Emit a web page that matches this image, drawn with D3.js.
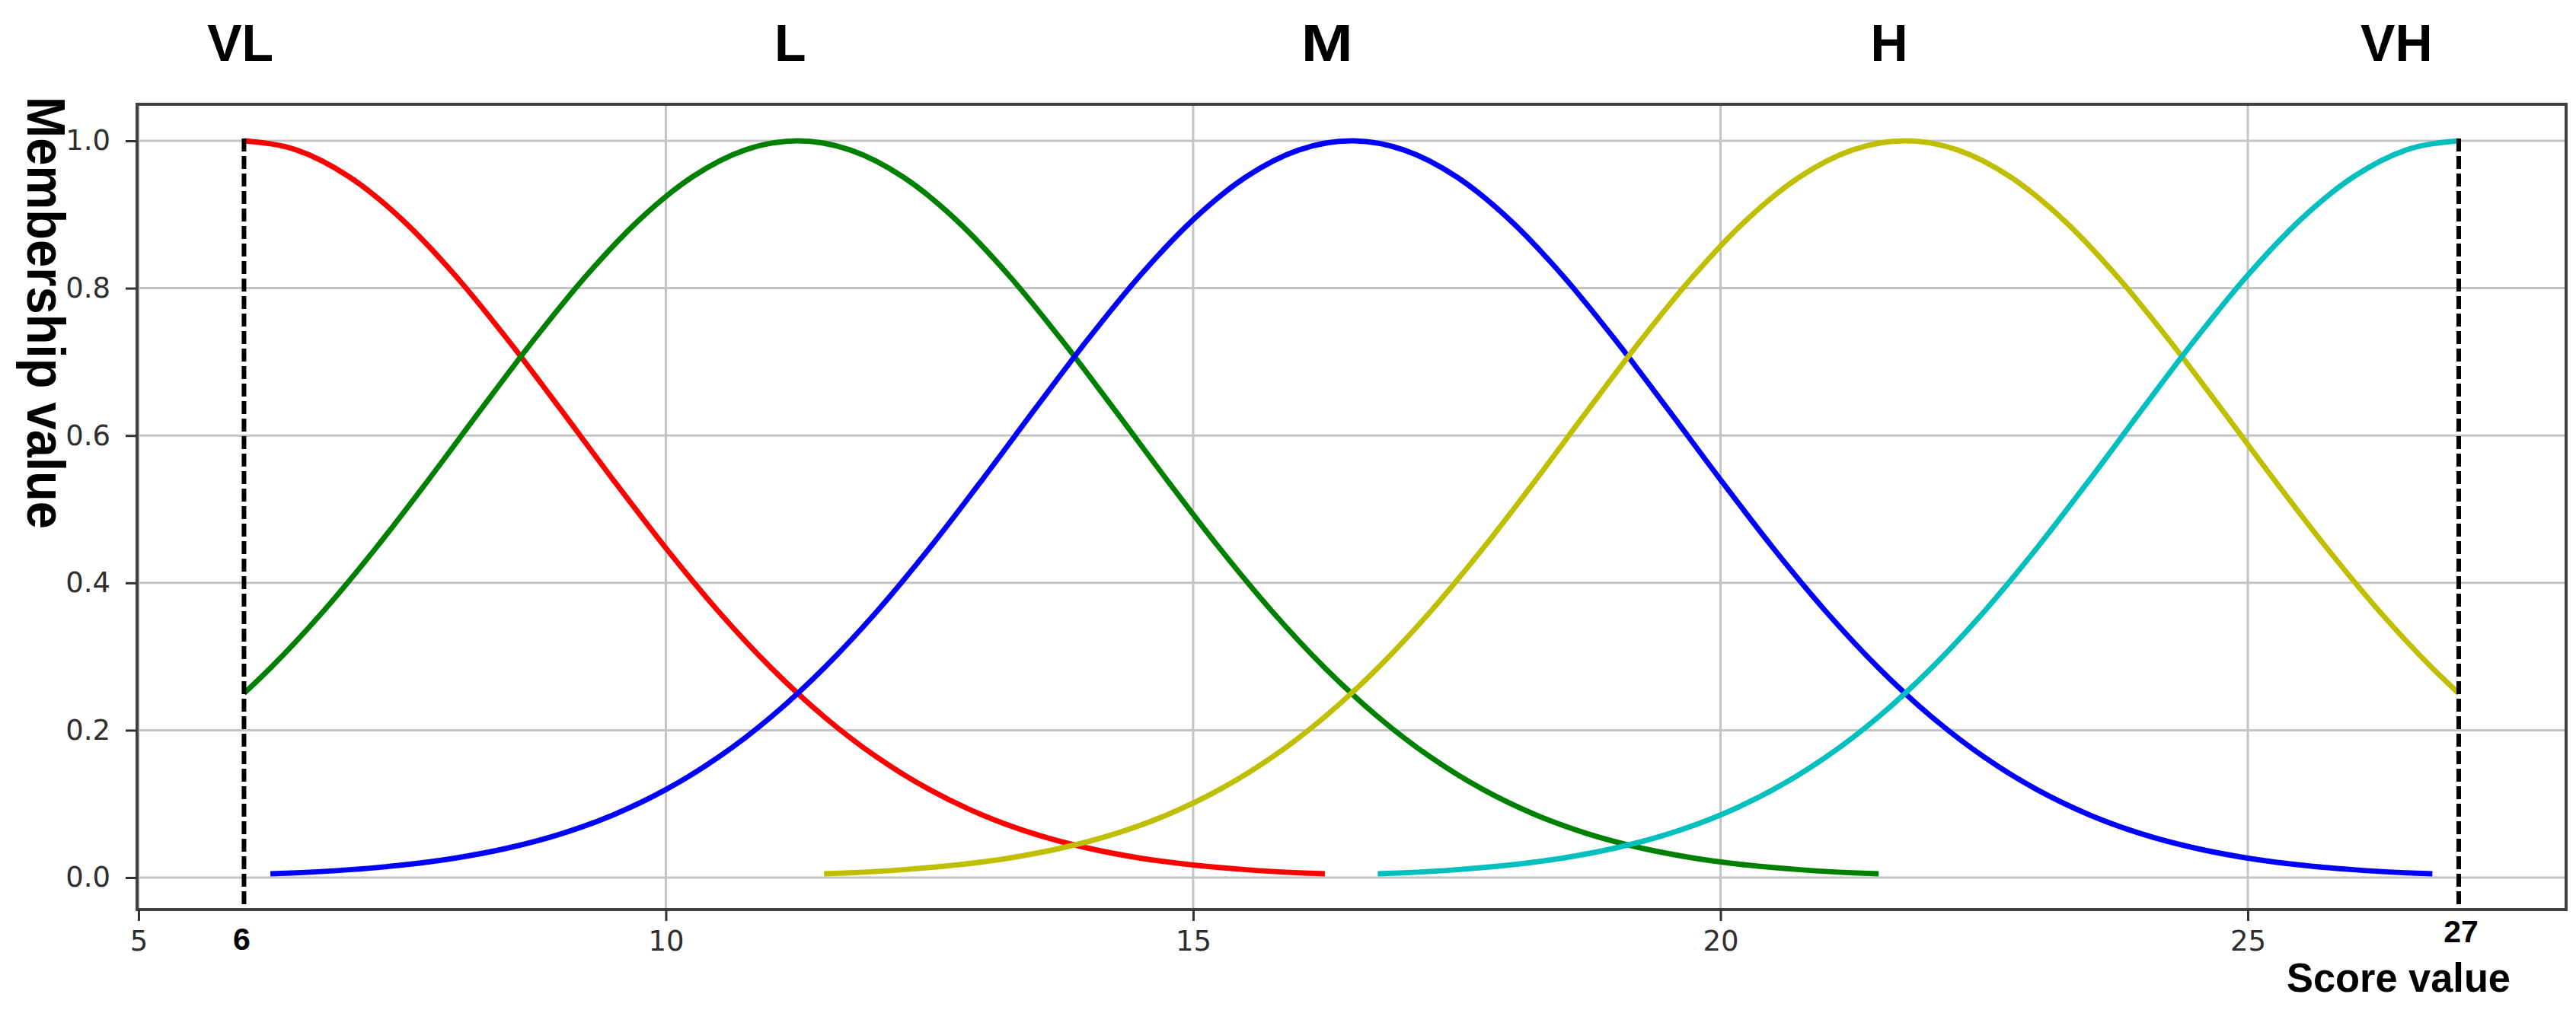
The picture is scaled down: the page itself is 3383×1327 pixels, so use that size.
<!DOCTYPE html>
<html>
<head>
<meta charset="utf-8">
<script src="https://cdn.jsdelivr.net/npm/d3@7"></script>
<style>
  html, body { margin: 0; padding: 0; background: #ffffff; }
  svg { display: block; }
</style>
</head>
<body>
<svg id="chart" width="3383" height="1327"></svg>
<script>
// ---------------- DATA ----------------
const categories = ["VL", "L", "M", "H", "VH"];
const seriesColors = ["#ff0000", "#008000", "#0000ff", "#bfbf00", "#00bfbf"];
const labelX = [5.965, 11.18, 16.27, 21.60, 26.41];   // category label positions (score units)

const xTicks = [5, 10, 15, 20, 25];
const yTicks = [0.0, 0.2, 0.4, 0.6, 0.8, 1.0];
const boundTicks = [6, 27];

const VL_x = [6,6.5,7,7.5,8,8.5,9,9.5,10,10.5,11,11.5,12,12.5,13,13.5,14,14.5,15,15.5,16,16.25];
const VL_y = [1.0000,0.9875,0.9509,0.8930,0.8177,0.7302,0.6359,0.5400,0.4472,0.3611,0.2844,0.2184,0.1635,0.1194,0.0850,0.0590,0.0400,0.0264,0.0170,0.0107,0.0065,0.0051];

const L_x = [6,6.25,6.75,7.25,7.75,8.25,8.75,9.25,9.75,10.25,10.75,11.25,11.75,12.25,12.75,13.25,13.75,14.25,14.75,15.25,15.75,16.25,16.75,17.25,17.75,18.25,18.75,19.25,19.75,20.25,20.75,21.25,21.5];
const L_y = [0.2500,0.2844,0.3611,0.4472,0.5400,0.6359,0.7302,0.8177,0.8930,0.9509,0.9875,1.0000,0.9875,0.9509,0.8930,0.8177,0.7302,0.6359,0.5400,0.4472,0.3611,0.2844,0.2184,0.1635,0.1194,0.0850,0.0590,0.0400,0.0264,0.0170,0.0107,0.0065,0.0051];

const M_x = [6.25,6.5,7,7.5,8,8.5,9,9.5,10,10.5,11,11.5,12,12.5,13,13.5,14,14.5,15,15.5,16,16.5,17,17.5,18,18.5,19,19.5,20,20.5,21,21.5,22,22.5,23,23.5,24,24.5,25,25.5,26,26.5,26.75];
const M_y = [0.0051,0.0065,0.0107,0.0170,0.0264,0.0400,0.0590,0.0850,0.1194,0.1635,0.2184,0.2844,0.3611,0.4472,0.5400,0.6359,0.7302,0.8177,0.8930,0.9509,0.9875,1.0000,0.9875,0.9509,0.8930,0.8177,0.7302,0.6359,0.5400,0.4472,0.3611,0.2844,0.2184,0.1635,0.1194,0.0850,0.0590,0.0400,0.0264,0.0170,0.0107,0.0065,0.0051];

const H_x = [11.5,11.75,12.25,12.75,13.25,13.75,14.25,14.75,15.25,15.75,16.25,16.75,17.25,17.75,18.25,18.75,19.25,19.75,20.25,20.75,21.25,21.75,22.25,22.75,23.25,23.75,24.25,24.75,25.25,25.75,26.25,26.75,27];
const H_y = [0.0051,0.0065,0.0107,0.0170,0.0264,0.0400,0.0590,0.0850,0.1194,0.1635,0.2184,0.2844,0.3611,0.4472,0.5400,0.6359,0.7302,0.8177,0.8930,0.9509,0.9875,1.0000,0.9875,0.9509,0.8930,0.8177,0.7302,0.6359,0.5400,0.4472,0.3611,0.2844,0.2500];

const VH_x = [16.75,17,17.5,18,18.5,19,19.5,20,20.5,21,21.5,22,22.5,23,23.5,24,24.5,25,25.5,26,26.5,27];
const VH_y = [0.0051,0.0065,0.0107,0.0170,0.0264,0.0400,0.0590,0.0850,0.1194,0.1635,0.2184,0.2844,0.3611,0.4472,0.5400,0.6359,0.7302,0.8177,0.8930,0.9509,0.9875,1.0000];

const seriesX = [VL_x, L_x, M_x, H_x, VH_x];
const seriesY = [VL_y, L_y, M_y, H_y, VH_y];

// ---------------- LAYOUT ----------------
const svg = d3.select("#chart");
const plot = { left: 180, right: 3370, top: 137, bottom: 1195 };

const x = d3.scaleLinear().domain([4.986, 28.018]).range([plot.left, plot.right]);
const y = d3.scaleLinear().domain([-0.0434, 1.0496]).range([plot.bottom, plot.top]);

svg.append("rect").attr("width", 3383).attr("height", 1327).attr("fill", "#ffffff");

// grid
const grid = svg.append("g");
grid.selectAll(".gx").data(xTicks).enter().append("line")
  .attr("x1", d => x(d)).attr("x2", d => x(d))
  .attr("y1", plot.top).attr("y2", plot.bottom)
  .attr("stroke", "#c4c4c4").attr("stroke-width", 3);
grid.selectAll(".gy").data(yTicks).enter().append("line")
  .attr("x1", plot.left).attr("x2", plot.right)
  .attr("y1", d => y(d)).attr("y2", d => y(d))
  .attr("stroke", "#c4c4c4").attr("stroke-width", 3);

// curves
const line = d3.line()
  .x(d => x(d[0])).y(d => y(d[1]))
  .curve(d3.curveMonotoneX);

categories.forEach((c, i) => {
  const pts = seriesX[i].map((v, k) => [v, seriesY[i][k]]);
  svg.append("path")
    .datum(pts)
    .attr("d", line)
    .attr("fill", "none")
    .attr("stroke", seriesColors[i])
    .attr("stroke-width", 7)
    .attr("stroke-linecap", "butt")
    .attr("stroke-linejoin", "round");
});

// dashed bounds
svg.selectAll(".bound").data(boundTicks).enter().append("line")
  .attr("x1", d => x(d)).attr("x2", d => x(d))
  .attr("y1", y(1.0) - 3).attr("y2", plot.bottom)
  .attr("stroke", "#000000").attr("stroke-width", 6)
  .attr("stroke-dasharray", "17,6");

// frame
svg.append("rect")
  .attr("x", plot.left).attr("y", plot.top)
  .attr("width", plot.right - plot.left).attr("height", plot.bottom - plot.top)
  .attr("fill", "none").attr("stroke", "#404040").attr("stroke-width", 4);

// axes
const xAxis = svg.append("g")
  .attr("transform", `translate(0,${plot.bottom})`)
  .call(d3.axisBottom(x).tickValues(xTicks).tickFormat(d3.format("d")).tickSize(15).tickPadding(13));
const yAxis = svg.append("g")
  .attr("transform", `translate(${plot.left},0)`)
  .call(d3.axisLeft(y).tickValues(yTicks).tickFormat(d3.format(".1f")).tickSize(15).tickPadding(20));

[xAxis, yAxis].forEach(g => {
  g.select(".domain").remove();
  g.selectAll(".tick line").attr("stroke", "#333333").attr("stroke-width", 3);
  g.selectAll(".tick text")
    .attr("fill", "#2e2e2e")
    .style("font-family", "'DejaVu Sans', sans-serif")
    .style("font-size", "37px");
});

// bound tick labels (bold)
svg.append("text").attr("x", x(6) - 3).attr("y", 1248)
  .attr("text-anchor", "middle")
  .style("font-family", "'Liberation Sans', Arial, sans-serif")
  .style("font-weight", "bold").style("font-size", "41px")
  .attr("fill", "#000").text("6");
svg.append("text").attr("x", x(27) + 3).attr("y", 1238)
  .attr("text-anchor", "middle")
  .style("font-family", "'Liberation Sans', Arial, sans-serif")
  .style("font-weight", "bold").style("font-size", "41px")
  .attr("fill", "#000").text("27");

// category labels at top
svg.selectAll(".cat").data(categories).enter().append("text")
  .attr("x", (d, i) => x(labelX[i]))
  .attr("y", 80)
  .attr("text-anchor", "middle")
  .style("font-family", "'Liberation Sans', Arial, sans-serif")
  .style("font-weight", "bold").style("font-size", "68px")
  .attr("fill", "#000")
  .each(function(d) { if (d === "M") d3.select(this).attr("textLength", 68).attr("lengthAdjust", "spacingAndGlyphs"); })
  .text(d => d);

// axis titles
svg.append("text")
  .attr("transform", "translate(36,411) rotate(90)")
  .attr("text-anchor", "middle")
  .attr("textLength", 568).attr("lengthAdjust", "spacingAndGlyphs")
  .style("font-family", "'Liberation Sans', Arial, sans-serif")
  .style("font-weight", "bold").style("font-size", "70px")
  .attr("fill", "#000").text("Membership value");

svg.append("text")
  .attr("x", 3150).attr("y", 1303)
  .attr("text-anchor", "middle")
  .attr("textLength", 294).attr("lengthAdjust", "spacingAndGlyphs")
  .style("font-family", "'Liberation Sans', Arial, sans-serif")
  .style("font-weight", "bold").style("font-size", "54px")
  .attr("fill", "#000").text("Score value");
</script>
</body>
</html>
